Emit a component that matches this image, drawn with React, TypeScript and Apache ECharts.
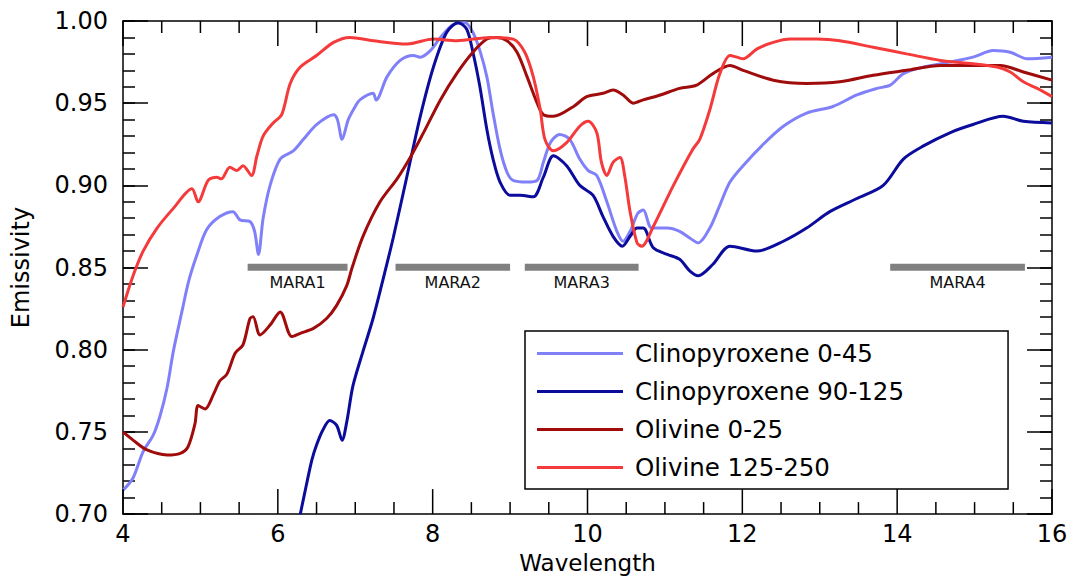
import React, { useEffect, useRef } from "react";
import * as echarts from "echarts";

// ---------- data ----------
const seriesNames = [
  "Clinopyroxene 0-45",
  "Clinopyroxene 90-125",
  "Olivine 0-25",
  "Olivine 125-250",
];
const seriesColors = ["#8080f8", "#0c0c9c", "#a00c0c", "#f43a3a"];

const cpx045: [number, number][] = [
  [4.0, 0.7145], [4.13, 0.722], [4.26, 0.738], [4.39, 0.748], [4.48, 0.76], [4.57, 0.777],
  [4.65, 0.799], [4.76, 0.823], [4.85, 0.842], [4.95, 0.857], [5.08, 0.873], [5.25, 0.881],
  [5.42, 0.884], [5.51, 0.879], [5.64, 0.878], [5.7, 0.872], [5.75, 0.858], [5.81, 0.88],
  [5.9, 0.9], [6.03, 0.916], [6.2, 0.921], [6.33, 0.928], [6.5, 0.937], [6.72, 0.943],
  [6.77, 0.94], [6.83, 0.928], [6.91, 0.94], [7.0, 0.948], [7.06, 0.952], [7.23, 0.956],
  [7.27, 0.952], [7.41, 0.966], [7.58, 0.976], [7.75, 0.979], [7.84, 0.978], [7.97, 0.982],
  [8.1, 0.99], [8.27, 0.998], [8.42, 0.999], [8.52, 0.993], [8.61, 0.982], [8.7, 0.966],
  [8.78, 0.944], [8.87, 0.922], [8.96, 0.908], [9.04, 0.903], [9.22, 0.902], [9.35, 0.903],
  [9.43, 0.914], [9.52, 0.926], [9.64, 0.931], [9.77, 0.928], [9.9, 0.916], [10.01, 0.909],
  [10.12, 0.906], [10.25, 0.89], [10.38, 0.872], [10.46, 0.866], [10.55, 0.872], [10.65, 0.883],
  [10.72, 0.885], [10.83, 0.874], [11.03, 0.874], [11.19, 0.872], [11.32, 0.868], [11.43, 0.865],
  [11.58, 0.874], [11.71, 0.888], [11.84, 0.902], [12.01, 0.912], [12.27, 0.925], [12.53, 0.936],
  [12.83, 0.944], [13.17, 0.948], [13.48, 0.955], [13.74, 0.959], [13.91, 0.961], [14.08, 0.968],
  [14.34, 0.972], [14.68, 0.975], [14.98, 0.978], [15.24, 0.982], [15.46, 0.981], [15.68, 0.977],
  [16.0, 0.978],
];

const cpx90125: [number, number][] = [
  [6.29, 0.7], [6.37, 0.718], [6.44, 0.733], [6.5, 0.742], [6.58, 0.751], [6.67, 0.757],
  [6.76, 0.754], [6.83, 0.745], [6.89, 0.756], [6.97, 0.778], [7.1, 0.799], [7.23, 0.819],
  [7.36, 0.843], [7.49, 0.868], [7.67, 0.906], [7.84, 0.942], [8.01, 0.972], [8.18, 0.993],
  [8.33, 0.999], [8.44, 0.995], [8.52, 0.981], [8.61, 0.96], [8.7, 0.934], [8.78, 0.916],
  [8.87, 0.902], [9.0, 0.894], [9.13, 0.894], [9.3, 0.893], [9.43, 0.905], [9.56, 0.918],
  [9.73, 0.912], [9.9, 0.9], [10.07, 0.894], [10.2, 0.881], [10.33, 0.869], [10.45, 0.863],
  [10.55, 0.869], [10.64, 0.874], [10.72, 0.874], [10.85, 0.862], [11.03, 0.858], [11.19, 0.855],
  [11.32, 0.848], [11.43, 0.845], [11.62, 0.852], [11.84, 0.863], [12.19, 0.86], [12.53, 0.866],
  [12.83, 0.874], [13.13, 0.884], [13.48, 0.892], [13.82, 0.9], [14.08, 0.916], [14.34, 0.924],
  [14.68, 0.932], [14.98, 0.937], [15.37, 0.942], [15.63, 0.939], [16.0, 0.938],
];

const ol025: [number, number][] = [
  [4.0, 0.75], [4.13, 0.745], [4.31, 0.739], [4.57, 0.736], [4.74, 0.737], [4.84, 0.741],
  [4.93, 0.755], [4.97, 0.766], [5.06, 0.764], [5.17, 0.773], [5.25, 0.781], [5.34, 0.785],
  [5.45, 0.798], [5.55, 0.803], [5.64, 0.819], [5.68, 0.82], [5.77, 0.809], [5.9, 0.815],
  [6.03, 0.823], [6.18, 0.808], [6.29, 0.81], [6.46, 0.813], [6.63, 0.819], [6.76, 0.827],
  [6.89, 0.839], [6.96, 0.85], [7.1, 0.869], [7.32, 0.89], [7.54, 0.904], [7.71, 0.917],
  [7.87, 0.931], [8.1, 0.952], [8.31, 0.968], [8.52, 0.981], [8.7, 0.989], [8.83, 0.99],
  [8.96, 0.988], [9.09, 0.981], [9.22, 0.966], [9.35, 0.95], [9.43, 0.943], [9.56, 0.942],
  [9.82, 0.948], [9.99, 0.954], [10.2, 0.956], [10.33, 0.958], [10.46, 0.955], [10.59, 0.95],
  [10.72, 0.952], [10.94, 0.955], [11.19, 0.959], [11.41, 0.961], [11.62, 0.968], [11.84, 0.973],
  [12.01, 0.97], [12.4, 0.964], [12.83, 0.962], [13.26, 0.963], [13.69, 0.967], [14.12, 0.97],
  [14.56, 0.973], [14.98, 0.973], [15.33, 0.973], [15.63, 0.969], [16.0, 0.964],
];

const ol125250: [number, number][] = [
  [4.0, 0.826], [4.13, 0.845], [4.26, 0.86], [4.44, 0.874], [4.65, 0.886], [4.89, 0.898],
  [4.97, 0.89], [5.1, 0.903], [5.21, 0.905], [5.27, 0.904], [5.38, 0.911], [5.47, 0.909],
  [5.55, 0.912], [5.66, 0.906], [5.73, 0.918], [5.81, 0.93], [5.94, 0.938], [6.05, 0.943],
  [6.16, 0.962], [6.29, 0.972], [6.5, 0.979], [6.72, 0.987], [6.93, 0.99], [7.23, 0.988],
  [7.67, 0.986], [8.01, 0.989], [8.31, 0.988], [8.74, 0.99], [9.04, 0.989], [9.19, 0.981],
  [9.3, 0.966], [9.39, 0.946], [9.45, 0.928], [9.56, 0.921], [9.73, 0.926], [9.9, 0.936],
  [10.01, 0.939], [10.12, 0.932], [10.18, 0.914], [10.25, 0.906], [10.33, 0.914], [10.42, 0.917],
  [10.48, 0.906], [10.55, 0.884], [10.64, 0.865], [10.7, 0.863], [10.85, 0.875], [11.11, 0.9],
  [11.36, 0.922], [11.45, 0.928], [11.58, 0.946], [11.71, 0.968], [11.84, 0.979], [11.93, 0.978],
  [12.01, 0.977], [12.19, 0.983], [12.4, 0.987], [12.62, 0.989], [12.96, 0.989], [13.26, 0.988],
  [13.69, 0.984], [14.12, 0.98], [14.56, 0.976], [14.98, 0.974], [15.29, 0.972], [15.46, 0.969],
  [15.63, 0.963], [15.81, 0.959], [16.0, 0.954],
];

const maraNames = ["MARA1", "MARA2", "MARA3", "MARA4"];
const maraStart = [5.61, 7.52, 9.19, 13.91];
const maraEnd = [6.9, 9.0, 10.66, 15.65];
const maraLevel = 0.8502;

const xMin = 4;
const xMax = 16;
const xStep = 2;
const xMinorStep = 0.5;
const yMin = 0.7;
const yMax = 1.0;
const yStep = 0.05;
const yMinorStep = 0.01;

// ---------- chart ----------
const FONT = "DejaVu Sans";
const MAJOR_LEN = 25;
const MINOR_LEN = 12;

export default function App() {
  const ref = useRef<HTMLDivElement>(null);

  useEffect(() => {
    if (!ref.current) return;
    const chart = echarts.init(ref.current, null, { renderer: "svg" });

    const ls = () => ({ color: "#000", width: 1.5 });
    const mkY = (position: string, interval: number, major: boolean, extra: any = {}) => ({
      type: "value",
      position,
      min: yMin,
      max: yMax,
      interval,
      axisLine: major
        ? { show: true, onZero: false, lineStyle: ls() }
        : { show: false, onZero: false },
      axisTick: { show: true, inside: true, length: major ? MAJOR_LEN : MINOR_LEN, lineStyle: ls() },
      splitLine: { show: false },
      axisLabel: { show: false },
      ...extra,
    });
    const mkX = (position: string, extra: any = {}) => ({
      type: "value",
      position,
      min: xMin,
      max: xMax,
      interval: xStep,
      axisLine: { show: true, onZero: false, lineStyle: ls() },
      axisTick: { show: false },
      splitLine: { show: false },
      axisLabel: { show: false },
      ...extra,
    });

    const lines = [cpx045, cpx90125, ol025, ol125250];

    const option: any = {
      animation: false,
      grid: { left: 123, right: 19, top: 21, bottom: 62, containLabel: false },
      legend: {
        data: seriesNames,
        orient: "vertical",
        left: 525,
        top: 331,
        icon: "rect",
        itemWidth: 86,
        itemHeight: 3,
        itemGap: 13,
        padding: [10, 104, 9, 12],
        borderColor: "#000",
        borderWidth: 1.5,
        backgroundColor: "#fff",
        textStyle: {
          fontFamily: FONT,
          fontSize: 24.5,
          lineHeight: 24,
          color: "#000",
          padding: [0, 0, 0, 7],
        },
      },
      xAxis: [
        mkX("bottom", {
          axisLabel: { color: "#000", fontFamily: FONT, fontSize: 24, margin: 8 },
          name: "Wavelength",
          nameLocation: "middle",
          nameGap: 34,
          nameTextStyle: { color: "#000", fontFamily: FONT, fontSize: 23 },
        }),
        mkX("top"),
      ],
      yAxis: [
        mkY("left", yStep, true, {
          axisLabel: {
            color: "#000",
            fontFamily: FONT,
            fontSize: 24,
            margin: 15,
            formatter: (v: number) => v.toFixed(2),
          },
          name: "Emissivity",
          nameLocation: "middle",
          nameGap: 90,
          nameRotate: 90,
          nameTextStyle: { color: "#000", fontFamily: FONT, fontSize: 24 },
        }),
        mkY("right", yStep, true),
        mkY("left", yMinorStep, false),
        mkY("right", yMinorStep, false),
      ],
      series: [
        {
          type: "custom",
          name: "MARA",
          silent: true,
          data: maraStart.map((s, i) => [s, maraEnd[i], maraLevel]),
          encode: { x: 0, y: 2 },
          z: 2,
          renderItem: (params: any, api: any) => {
            const a = api.coord([api.value(0), api.value(2)]);
            const b = api.coord([api.value(1), api.value(2)]);
            return {
              type: "group",
              children: [
                {
                  type: "rect",
                  shape: { x: a[0], y: a[1] - 3.5, width: b[0] - a[0], height: 7 },
                  style: { fill: "#808080" },
                },
                {
                  type: "text",
                  style: {
                    text: maraNames[params.dataIndex],
                    x: (a[0] + b[0]) / 2,
                    y: a[1] + 15.5,
                    align: "center",
                    verticalAlign: "middle",
                    fontFamily: FONT,
                    fontSize: 16,
                    fill: "#111",
                  },
                },
              ],
            };
          },
        },
        ...lines.map((d, i) => ({
          type: "line",
          name: seriesNames[i],
          data: d,
          showSymbol: false,
          symbol: "none",
          smooth: 0.3,
          clip: true,
          lineStyle: { color: seriesColors[i], width: 3 },
          itemStyle: { color: seriesColors[i] },
          z: 3 + i,
        })),
      ],
    };

    chart.setOption(option);

    // x-axis ticks (top and bottom, pointing inward), positioned through the axis scale
    const tickEls: any[] = [];
    const nMinor = Math.round((xMax - xMin) / xMinorStep);
    for (let k = 0; k <= nMinor; k++) {
      const v = xMin + k * xMinorStep;
      const r = v / xStep;
      const len = Math.abs(r - Math.round(r)) < 1e-6 ? MAJOR_LEN : MINOR_LEN;
      const b = chart.convertToPixel({ xAxisIndex: 0, yAxisIndex: 0 }, [v, yMin]) as number[];
      const t = chart.convertToPixel({ xAxisIndex: 0, yAxisIndex: 0 }, [v, yMax]) as number[];
      if (!b || !t) continue;
      tickEls.push({
        type: "line",
        z: 50,
        silent: true,
        shape: { x1: b[0], y1: b[1], x2: b[0], y2: b[1] - len },
        style: { stroke: "#000", lineWidth: 1.5 },
      });
      tickEls.push({
        type: "line",
        z: 50,
        silent: true,
        shape: { x1: t[0], y1: t[1], x2: t[0], y2: t[1] + len },
        style: { stroke: "#000", lineWidth: 1.5 },
      });
    }
    chart.setOption({ graphic: { elements: tickEls } });

    return () => chart.dispose();
  }, []);

  return (
    <div
      ref={ref}
      style={{ position: "fixed", left: 0, top: 0, width: 1071, height: 579, background: "#fff" }}
    />
  );
}
